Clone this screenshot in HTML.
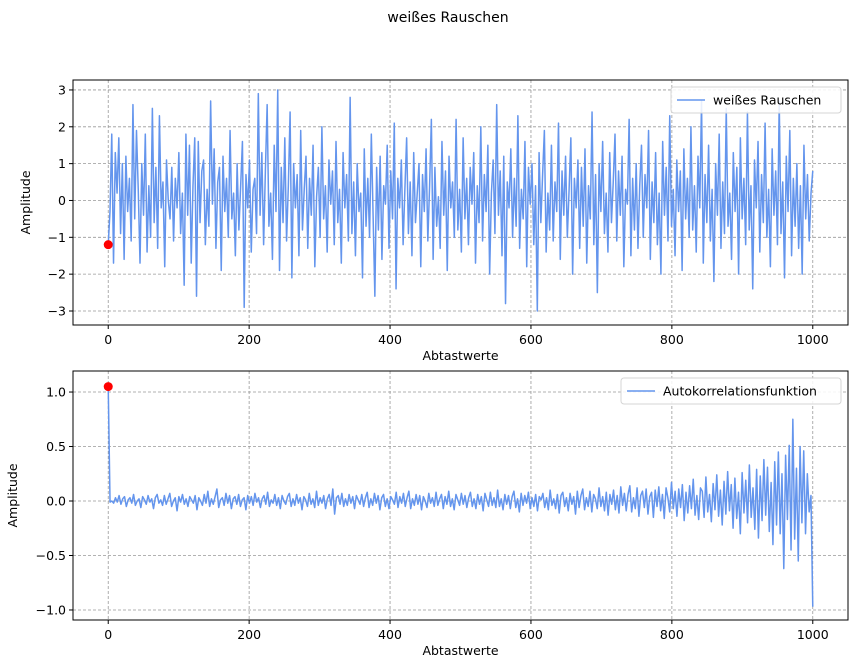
<!DOCTYPE html>
<html><head><meta charset="utf-8"><style>
html,body{margin:0;padding:0;background:#fff}
svg{display:block;font-family:"DejaVu Sans","Liberation Sans",sans-serif}
</style></head><body>
<svg id="fig" width="858" height="672" viewBox="0 0 858 672">
<rect width="858" height="672" fill="#fff"/>
<text x="448" y="22" font-size="14" text-anchor="middle" fill="#000">weißes Rauschen</text>
<g id="ax1"></g>
<g id="ax2"></g>
</svg>
<script>
const noiseValues=[-1.2,-0.3,1.8,-1.7,1.3,0.2,1.7,-0.9,1.0,-1.6,1.2,-0.3,0.6,-1.1,2.6,-0.5,1.9,0.3,-1.7,1.0,
-0.4,1.8,-1.4,0.4,-1.0,2.5,-0.6,0.9,-1.3,2.3,-0.2,0.5,-1.8,1.1,0.0,-0.5,0.9,-1.1,0.6,-0.2,
1.3,-0.9,0.2,-2.3,1.8,-0.4,1.5,-1.7,0.4,1.7,-2.6,1.6,-0.6,0.8,1.1,-1.2,0.3,-0.7,2.7,-0.1,
1.4,-1.3,0.5,0.9,-1.9,1.2,-0.3,0.6,-1.0,1.9,-0.5,0.2,-1.5,1.0,-0.8,0.4,1.6,-2.9,0.7,-0.2,
1.1,-1.4,0.3,0.6,-0.9,2.9,-0.4,1.3,-1.2,0.8,2.6,-0.7,0.2,-1.6,1.5,-0.3,3.0,-1.9,0.9,-0.6,
1.7,-1.1,0.4,2.4,-2.1,1.0,-0.2,0.7,-1.5,1.9,-0.8,0.3,1.2,-1.3,0.6,-0.4,1.5,-1.8,0.1,0.9,
-1.0,2.0,-0.5,0.4,-1.4,1.1,-0.1,0.8,-1.2,1.6,-0.6,0.3,-1.7,1.3,-0.2,0.7,-1.1,2.8,-0.9,0.5,
-1.5,1.0,-0.3,0.2,-2.1,1.4,-0.7,0.6,-1.0,1.8,-0.4,-2.6,0.9,-0.8,1.2,-1.6,0.4,-0.1,1.5,-1.3,
0.8,-0.5,2.1,-2.4,0.6,-0.2,1.1,-1.2,0.3,1.7,-0.9,0.5,-1.5,1.3,-0.6,0.2,1.0,-1.8,0.7,-0.3,
1.4,-1.1,0.4,2.2,-1.6,0.9,-0.7,0.1,-1.3,1.6,-0.4,0.8,-1.9,1.2,-0.2,0.5,-1.0,2.2,-0.8,0.3,
-1.4,1.7,-0.5,0.6,-1.2,0.9,-0.1,1.3,-1.7,0.4,-0.6,2.0,-1.1,0.7,-0.3,1.5,-2.0,0.2,1.1,-0.9,
2.6,-0.4,0.8,-1.5,1.2,-2.8,0.5,-0.2,1.4,-1.0,0.6,-0.7,2.3,-1.3,0.3,-0.5,1.6,-1.8,0.9,-0.1,
1.0,-1.2,0.4,-3.0,1.3,-0.6,0.7,1.9,-1.4,0.2,-0.8,1.5,-1.1,0.5,-0.3,2.1,-1.6,0.8,-0.4,1.2,
-1.0,0.3,1.7,-2.0,0.6,-0.2,1.1,-1.3,0.9,-0.7,1.4,-1.7,0.4,-0.5,2.4,-1.2,0.7,-2.5,1.0,-0.3,
1.6,-0.9,0.2,-1.4,1.3,-0.6,0.5,1.8,-1.1,0.8,-0.4,1.2,-1.8,0.3,-0.1,2.2,-1.5,0.6,-0.8,1.0,
-1.3,0.4,1.5,-1.0,0.7,-0.2,1.9,-1.6,0.5,-0.6,1.3,-1.2,0.2,-2.0,1.6,-0.4,0.9,-1.1,2.3,-0.7,
0.3,-1.5,1.1,-0.3,0.8,-1.9,1.4,-0.5,0.6,-1.0,2.0,-0.8,0.4,-1.4,1.2,-0.2,2.7,-1.7,0.7,-0.6,
1.5,-1.1,0.3,-2.2,1.0,-0.4,1.8,-1.3,0.5,-0.9,2.5,-0.7,0.2,-1.6,1.3,-0.3,0.9,-2.0,1.7,-0.5,
0.6,-1.2,2.4,-0.8,0.4,-2.4,1.1,-0.2,1.6,-1.4,0.7,-0.6,2.1,-1.0,0.3,-1.8,1.4,-0.4,0.8,-1.2,
2.7,-0.9,0.5,-2.1,1.2,-0.3,1.9,-1.5,0.6,-0.7,1.0,-1.3,0.4,-2.0,1.5,-0.5,0.7,-1.1,0.2,0.8];
const acfValues=[1.05,-0.01,0.00,-0.02,0.03,-0.01,0.05,-0.03,0.02,0.04,-0.05,0.01,0.03,-0.02,0.06,-0.04,0.00,0.02,-0.06,0.04,
0.01,-0.03,0.05,-0.01,0.02,-0.07,0.03,0.06,-0.02,0.01,-0.04,0.05,-0.03,0.02,0.07,-0.05,0.00,0.03,-0.09,0.04,
-0.01,0.06,-0.03,0.02,-0.05,0.04,0.01,-0.02,0.05,-0.08,0.03,0.00,-0.04,0.06,-0.02,0.09,-0.05,0.02,-0.03,0.04,
0.11,-0.06,0.01,0.03,-0.04,0.07,-0.02,0.05,-0.07,0.02,0.04,-0.03,0.06,-0.05,0.01,0.03,-0.08,0.05,-0.02,0.04,
-0.04,0.07,-0.01,0.03,-0.06,0.02,0.05,-0.03,0.08,-0.05,0.01,-0.02,0.06,-0.04,0.03,-0.07,0.05,0.00,-0.03,0.04,
0.07,-0.05,0.02,-0.04,0.06,-0.02,0.03,-0.08,0.04,0.01,-0.05,0.07,-0.03,0.02,-0.06,0.09,-0.04,0.03,-0.02,0.05,
-0.07,0.02,0.06,-0.04,0.11,-0.12,0.03,0.05,-0.03,0.07,-0.05,0.02,-0.04,0.06,-0.02,0.04,-0.07,0.05,0.01,-0.03,
0.06,-0.05,0.03,0.08,-0.06,0.02,-0.04,0.07,-0.02,0.05,-0.08,0.03,0.06,-0.05,0.02,-0.07,0.04,0.01,-0.03,0.08,
-0.06,0.04,-0.02,0.07,-0.05,0.03,0.09,-0.07,0.02,-0.04,0.06,-0.03,0.05,-0.08,0.04,0.00,-0.06,0.07,-0.02,0.03,
-0.05,0.08,-0.04,0.02,0.06,-0.07,0.04,-0.03,0.09,-0.05,0.02,-0.08,0.06,0.01,-0.04,0.07,-0.03,0.05,-0.06,0.03,
0.08,-0.05,0.02,-0.07,0.06,-0.03,0.04,-0.09,0.07,0.01,-0.05,0.08,-0.04,0.03,-0.06,0.10,-0.05,0.02,-0.08,0.06,
-0.03,0.05,-0.07,0.04,0.09,-0.06,0.02,-0.10,0.07,-0.04,0.05,-0.02,0.08,-0.07,0.03,-0.05,0.06,-0.09,0.04,0.01,
0.07,-0.06,0.03,-0.08,0.10,-0.04,0.02,-0.07,0.06,-0.11,0.05,0.08,-0.05,0.03,-0.09,0.07,-0.03,0.04,-0.12,0.09,
-0.06,0.05,0.11,-0.08,0.03,-0.05,0.09,-0.10,0.06,0.02,-0.07,0.12,-0.05,0.04,-0.09,0.08,-0.13,0.06,-0.03,0.10,
-0.08,0.05,-0.11,0.13,-0.04,0.07,-0.09,0.06,0.14,-0.10,0.03,-0.07,0.12,-0.14,0.05,0.09,-0.06,0.11,-0.12,0.04,
0.08,-0.15,0.10,-0.05,0.13,-0.09,0.06,-0.16,0.12,0.03,-0.10,0.17,-0.07,0.09,-0.14,0.11,-0.06,0.15,-0.18,0.08,
-0.11,0.14,-0.07,0.20,-0.13,0.05,-0.17,0.12,0.09,-0.15,0.22,-0.10,0.06,-0.19,0.16,-0.08,0.24,-0.14,0.10,-0.22,
0.18,-0.12,0.27,-0.09,0.15,-0.25,0.21,-0.16,0.08,-0.30,0.26,-0.11,0.19,-0.20,0.33,-0.15,0.12,-0.26,0.29,-0.34,
0.23,-0.18,0.38,-0.13,0.31,-0.28,0.17,-0.40,0.36,-0.22,0.45,-0.30,0.25,-0.62,0.42,-0.17,0.51,-0.45,0.75,-0.35,
0.30,-0.55,0.50,-0.20,0.46,-0.30,0.25,-0.10,0.05,-0.97];
const sampleStep=1000/(noiseValues.length-1);
const acfStep=1000/(acfValues.length-1);
const xTicks=[0,200,400,600,800,1000];
const yTicks1=[-3,-2,-1,0,1,2,3];
const yTicks2=[-1.0,-0.5,0.0,0.5,1.0];
const yTickLabels2=["−1.0","−0.5","0.0","0.5","1.0"];

const NS="http://www.w3.org/2000/svg";
function mk(tag,attrs,parent){const e=document.createElementNS(NS,tag);for(const k in attrs)e.setAttribute(k,attrs[k]);parent.appendChild(e);return e;}

function drawAxes(g,box,xd,yd,yt,ytl,vals,step,label,yLabelX,legendW){
  const sx=v=>box.l+(v-xd[0])/(xd[1]-xd[0])*(box.r-box.l);
  const sy=v=>box.b-(v-yd[0])/(yd[1]-yd[0])*(box.b-box.t);
  xTicks.forEach(t=>{
    const l=mk('line',{x1:sx(t),x2:sx(t),y1:box.t,y2:box.b,stroke:'#999','stroke-width':0.8,'stroke-dasharray':'3,2'},g);
    
    
  });
  yt.forEach(t=>{
    const l=mk('line',{x1:box.l,x2:box.r,y1:sy(t),y2:sy(t),stroke:'#999','stroke-width':0.8,'stroke-dasharray':'3,2'},g);
    
    
  });
  let d='';
  vals.forEach((v,i)=>{d+=(i?'L':'M')+sx(i*step).toFixed(2)+','+sy(v).toFixed(2);});
  const p=mk('path',{d:d,fill:'none',stroke:'#6495ed','stroke-width':1.5,'stroke-linejoin':'round'},g);
  
  
  const c=mk('circle',{cx:sx(0),cy:sy(vals[0]),r:4.5,fill:'#ff0000'},g);
  
  
  const f=mk('rect',{x:box.l,y:box.t,width:box.r-box.l,height:box.b-box.t,fill:'none',stroke:'#000','stroke-width':1},g);
  
  
  xTicks.forEach(t=>{
    mk('line',{x1:sx(t),x2:sx(t),y1:box.b,y2:box.b+4,stroke:'#000'},g);
    const tx=mk('text',{x:sx(t),y:box.b+19,'font-size':12.5,'text-anchor':'middle'},g);
    tx.textContent=t;
    
    
  });
  yt.forEach((t,i)=>{
    mk('line',{x1:box.l-4,x2:box.l,y1:sy(t),y2:sy(t),stroke:'#000'},g);
    const tx=mk('text',{x:box.l-7,y:sy(t)+4.5,'font-size':12.5,'text-anchor':'end'},g);
    tx.textContent=ytl[i];
    
    
  });
  const xl=mk('text',{x:(box.l+box.r)/2,y:box.b+35,'font-size':12.5,'text-anchor':'middle'},g);
  xl.textContent='Abtastwerte';
  
  
  const yc=(box.t+box.b)/2;
  const yl=mk('text',{x:yLabelX,y:yc,'font-size':12.5,'text-anchor':'middle',transform:`rotate(-90 ${yLabelX} ${yc})`},g);
  yl.textContent='Amplitude';
  
  
  const lg=mk('g',{},g);
  
  
  const lx=box.r-7-legendW, ly=box.t+7;
  mk('rect',{x:lx,y:ly,width:legendW,height:26,rx:3,fill:'#fff','fill-opacity':0.85,stroke:'#d5d5d5'},lg);
  mk('line',{x1:lx+6,x2:lx+34,y1:ly+13,y2:ly+13,stroke:'#6495ed','stroke-width':1.5},lg);
  const lt=mk('text',{x:lx+42,y:ly+17.5,'font-size':12.5},lg);
  lt.textContent=label;
  
  
}
drawAxes(document.getElementById('ax1'),{l:73,r:848,t:80,b:325},[-50,1050],[-3.38,3.27],yTicks1,yTicks1.map(v=>v<0?'−'+(-v):String(v)),noiseValues,sampleStep,'weißes Rauschen',30,170);
drawAxes(document.getElementById('ax2'),{l:73,r:848,t:371,b:620},[-50,1050],[-1.092,1.193],yTicks2,yTickLabels2,acfValues,acfStep,'Autokorrelationsfunktion',17,220);
</script>
</body></html>
